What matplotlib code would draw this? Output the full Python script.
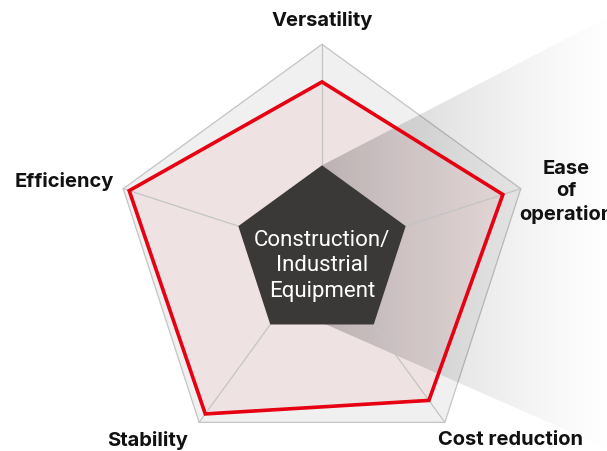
import numpy as np
import matplotlib
matplotlib.use("Agg")
import matplotlib.pyplot as plt
from matplotlib.patches import Polygon

# ---- data ----
categories = ["Versatility", "Ease\nof\noperation", "Cost reduction", "Stability", "Efficiency"]
values = [82, 91, 87, 95, 97]
max_value = 100
center_label = "Construction/\nIndustrial\nEquipment"

plt.rcParams['font.family'] = ['Inter', 'DejaVu Sans']

W, H = 607, 451
fig = plt.figure(figsize=(W / 100, H / 100), dpi=100)
ax = fig.add_axes([0, 0, 1, 1])
cx_px, cy_px, R_px = 322, 253.3, 209
ax.set_xlim(-cx_px / R_px, (W - cx_px) / R_px)
ax.set_ylim(-(H - cy_px) / R_px, cy_px / R_px)
ax.axis('off')

n = len(categories)
angles = np.deg2rad(90 - 72 * np.arange(n))
ux, uy = np.cos(angles), np.sin(angles)

# outer grid pentagon
outer = np.column_stack([ux, uy])
ax.add_patch(Polygon(outer, closed=True, facecolor='#f0f0f0', edgecolor='#c4c4c4', lw=0.9, zorder=1))

# data fill
r = np.array(values) / max_value
pts = np.column_stack([ux * r, uy * r])
ax.add_patch(Polygon(pts, closed=True, facecolor='#e60012', alpha=0.055, edgecolor='none', zorder=2))

# inner pentagon radius
r_in = 0.421

# shadow with gradient
shadow = np.array([[0.0, r_in], [1.6, 1.13 + 0.12], [1.6, -0.936 - 0.10], [0.014, -0.338]])
shadow_patch = Polygon(shadow, closed=True, facecolor='none', edgecolor='none', transform=ax.transData)
ax.add_patch(shadow_patch)
x0, x1 = 0.0, (625 - cx_px) / R_px
xs = np.linspace(0, 1, 400)
alpha = 0.21 * np.clip(1 - xs, 0, 1) ** 1.3
img = np.zeros((2, 400, 4))
img[..., 3] = alpha
im = ax.imshow(img, extent=[x0, x1, -1.1, 1.3], origin='lower', aspect='auto', zorder=3,
               interpolation='bilinear')
im.set_clip_path(shadow_patch)
ax.set_xlim(-cx_px / R_px, (W - cx_px) / R_px)
ax.set_ylim(-(H - cy_px) / R_px, cy_px / R_px)

# spokes
for x, y in zip(ux, uy):
    ax.plot([0, x], [0, y], color='#c4c4c4', lw=0.9, zorder=4)

# red line
ax.add_patch(Polygon(pts, closed=True, facecolor='none', edgecolor='#e60012', lw=2.6, zorder=5,
                     joinstyle='miter'))

# inner pentagon
inner = np.column_stack([ux * r_in, uy * r_in])
ax.add_patch(Polygon(inner, closed=True, facecolor='#3a3938', edgecolor='none', zorder=6))
ax.text(0, -0.06, center_label, ha='center', va='center', color='white', fontsize=16,
        family=['Roboto', 'DejaVu Sans'], linespacing=1.3, zorder=7)

# labels
lab_style = dict(fontsize=14.5, fontweight='bold', color='#111111', zorder=8)
def px(x, y):
    return ((x - cx_px) / R_px, (cy_px - y) / R_px)
ax.text(*px(322, 20), categories[0], ha='center', va='center', **lab_style)
ax.text(*px(566, 192), categories[1], ha='center', va='center', linespacing=1.3, **lab_style)
ax.text(*px(510, 440), categories[2], ha='center', va='center', **lab_style)
ax.text(*px(148, 440), categories[3], ha='center', va='center', **lab_style)
ax.text(*px(114, 181), categories[4], ha='right', va='center', **lab_style)

fig.savefig("out.png", dpi=100)
